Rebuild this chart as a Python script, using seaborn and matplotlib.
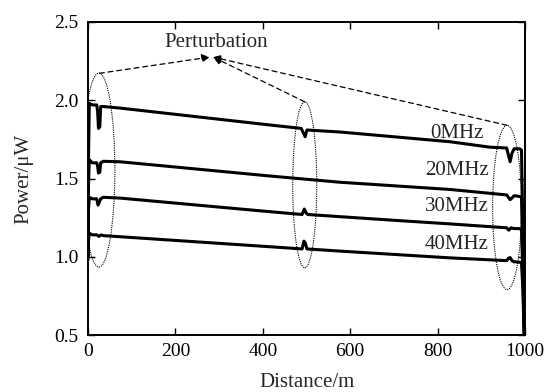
import numpy as np
import pandas as pd
import matplotlib
matplotlib.use("Agg")
import matplotlib.pyplot as plt
from matplotlib.patches import Ellipse
import seaborn as sns

# distance (m) and power (uW), one pair of lists per band
d0 = [0, 1, 3, 10, 20, 22, 24, 27, 29, 35, 73, 416, 488, 493, 497, 501, 577,
      828, 920, 958, 962, 966, 970, 975, 988, 992, 995, 1000]
p0 = [1.00, 1.60, 1.98, 1.97, 1.97, 1.93, 1.82, 1.83, 1.96, 1.96, 1.95, 1.842,
      1.82, 1.79, 1.767, 1.81, 1.797, 1.735, 1.70, 1.695, 1.65, 1.607, 1.66,
      1.69, 1.69, 1.68, 1.20, 0.30]

d20 = [0, 1, 3, 10, 20, 22, 24, 27, 29, 35, 73, 416, 577, 828, 958, 962, 966,
       970, 975, 988, 992, 995, 1000]
p20 = [1.00, 1.45, 1.62, 1.60, 1.60, 1.58, 1.535, 1.54, 1.60, 1.61, 1.607,
       1.516, 1.476, 1.43, 1.395, 1.38, 1.365, 1.375, 1.39, 1.385, 1.38, 1.00,
       0.30]

d30 = [0, 1, 3, 10, 20, 23, 26, 29, 35, 73, 250, 416, 490, 495, 499, 503, 577,
       700, 828, 958, 963, 968, 975, 988, 992, 995, 1000]
p30 = [1.00, 1.30, 1.38, 1.37, 1.37, 1.33, 1.35, 1.37, 1.38, 1.375, 1.33,
       1.288, 1.27, 1.305, 1.28, 1.27, 1.256, 1.233, 1.21, 1.185, 1.17, 1.185,
       1.18, 1.18, 1.17, 0.90, 0.30]

d40 = [0, 1, 3, 10, 20, 25, 30, 35, 73, 416, 490, 494, 497, 501, 577, 828, 958,
       962, 966, 970, 975, 988, 992, 995, 1000]
p40 = [0.98, 1.10, 1.15, 1.14, 1.14, 1.13, 1.14, 1.135, 1.128, 1.064, 1.05,
       1.10, 1.09, 1.05, 1.036, 0.993, 0.975, 0.99, 0.995, 0.975, 0.968, 0.965,
       0.96, 0.80, 0.30]

bands = ["0MHz", "20MHz", "30MHz", "40MHz"]
label_y = [1.79, 1.554, 1.32, 1.08]

x_ticks = [0, 200, 400, 600, 800, 1000]
y_ticks = [0.5, 1.0, 1.5, 2.0, 2.5]

frames = []
for name, d, p in zip(bands, [d0, d20, d30, d40], [p0, p20, p30, p40]):
    frames.append(pd.DataFrame({"distance": d, "power": p, "band": name}))
df = pd.concat(frames, ignore_index=True)

sns.set_style("ticks")
plt.rcParams["font.family"] = ["Liberation Serif", "DejaVu Serif"]

FS = 15
TICK_FS = 14

fig = plt.figure(figsize=(5.45, 3.92), dpi=100)
ax = fig.add_axes([88 / 545, 1 - 335 / 392, 437 / 545, 313 / 392])

sns.lineplot(data=df, x="distance", y="power", hue="band",
             palette=["black"] * 4, estimator=None, sort=False,
             linewidth=2.2, legend=False, ax=ax)

# perturbation regions
for cx, cy, w, h in [(25, 1.554, 73, 1.24), (496, 1.46, 55, 1.06),
                     (959, 1.315, 66, 1.05)]:
    ax.add_patch(Ellipse((cx, cy), w, h, fill=False, ec="black",
                         lw=0.8, ls=(0, (1, 1))))

arrow_kw = dict(arrowstyle="-|>", color="black", lw=0.9,
                linestyle=(0, (4, 3)), mutation_scale=12,
                shrinkA=0, shrinkB=0)
ax.annotate("", xy=(279, 2.276), xytext=(26, 2.172), arrowprops=arrow_kw)
ax.annotate("", xy=(286, 2.276), xytext=(496, 1.99), arrowprops=arrow_kw)
ax.annotate("", xy=(286, 2.276), xytext=(959, 1.84), arrowprops=arrow_kw)
ax.text(293, 2.366, "Perturbation", ha="center", va="center", fontsize=FS)

for name, y in zip(bands, label_y):
    ax.text(844, y, name, ha="center", va="center", fontsize=FS)

ax.set_xlim(0, 1000)
ax.set_ylim(0.5, 2.5)
ax.set_xticks(x_ticks)
ax.set_yticks(y_ticks)
ax.set_yticklabels([f"{v:.1f}" for v in y_ticks])
ax.tick_params(direction="in", top=True, right=True, length=5, width=1.0,
               labelsize=TICK_FS, color="black", labelcolor="black")
ax.tick_params(axis="x", pad=6)
ax.tick_params(axis="y", pad=7)
for s in ax.spines.values():
    s.set_linewidth(1.4)
    s.set_color("black")
ax.set_xlabel("Distance/m", fontsize=FS, labelpad=9)
ax.set_ylabel("Power/μW", fontsize=FS, labelpad=15)

fig.savefig("out.png", dpi=100)
